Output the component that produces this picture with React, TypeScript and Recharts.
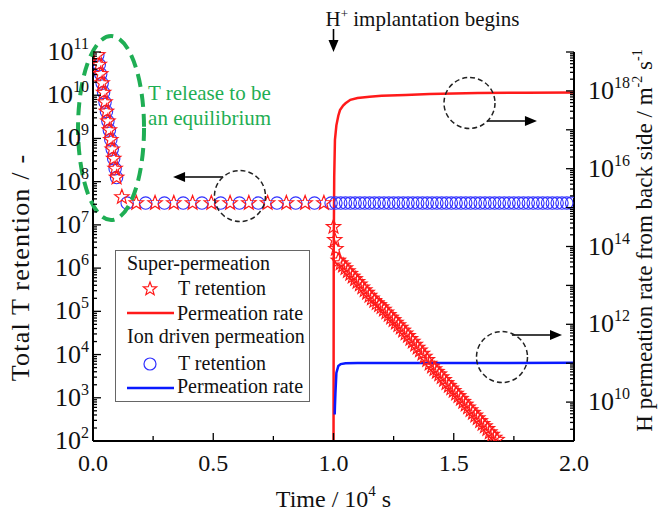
import React from 'react';
import { ComposedChart, XAxis, YAxis, Scatter, Line, ReferenceDot, ReferenceLine, Legend } from 'recharts';

const FONT = '"Liberation Serif", "Times New Roman", Times, serif';

// ---------- axes ----------
const xTicks = [0, 0.25, 0.5, 0.75, 1, 1.25, 1.5, 1.75, 2];
const xTickLabels = ['0.0', '', '0.5', '', '1.0', '', '1.5', '', '2.0'];
const leftDecades = [2, 3, 4, 5, 6, 7, 8, 9, 10, 11];
const leftLabelExps = [2, 3, 4, 5, 6, 7, 8, 9, 10, 11];
const rightDecades = [9, 10, 11, 12, 13, 14, 15, 16, 17, 18, 19];
const rightLabelExps = [10, 12, 14, 16, 18];
const minorMultipliers = [2, 3, 4, 5, 6, 7, 8, 9];

function logTicks(decades: number[]) {
  const out: number[] = [];
  decades.forEach((d, i) => {
    out.push(Math.pow(10, d));
    if (i < decades.length - 1) minorMultipliers.forEach((m) => out.push(m * Math.pow(10, d)));
  });
  return out;
}
const leftTicks = logTicks(leftDecades);
const rightTicks = logTicks(rightDecades);

// ---------- data: Super-permeation T retention (stars) ----------
const superT = [
  0.020, 0.026, 0.032, 0.038, 0.044, 0.050, 0.056, 0.062, 0.068, 0.074, 0.080, 0.086, 0.092, 0.098,
  0.120, 0.180, 0.258, 0.336, 0.414, 0.492, 0.570, 0.648, 0.726, 0.804, 0.882, 0.960,
  1.000, 1.005, 1.010,
  1.02, 1.03, 1.04, 1.05, 1.06, 1.07, 1.08, 1.09, 1.10, 1.11, 1.12, 1.13, 1.14, 1.15, 1.16, 1.17, 1.18, 1.19,
  1.20, 1.21, 1.22, 1.23, 1.24, 1.25, 1.26, 1.27, 1.28, 1.29, 1.30, 1.31, 1.32, 1.33, 1.34, 1.35, 1.36, 1.37,
  1.38, 1.39, 1.40, 1.41, 1.42, 1.43, 1.44, 1.45, 1.46, 1.47, 1.48, 1.49, 1.50, 1.51, 1.52, 1.53, 1.54, 1.55,
  1.56, 1.57, 1.58, 1.59, 1.60, 1.61, 1.62, 1.63, 1.64, 1.65, 1.66, 1.67, 1.68,
];
const superV = [
  8.5e10, 5.1e10, 3.1e10, 1.9e10, 1.15e10, 6.9e9, 4.2e9, 2.5e9, 1.55e9, 9.3e8, 5.6e8, 3.4e8, 2.0e8, 1.25e8,
  4.4e7, 3.2e7, 3.2e7, 3.2e7, 3.2e7, 3.2e7, 3.2e7, 3.2e7, 3.2e7, 3.2e7, 3.2e7, 3.2e7,
  9.0e6, 4.5e6, 2.8e6,
  1.5e6, 1.3e6, 1.15e6, 1.0e6, 8.5e5, 7.4e5, 6.4e5, 5.6e5, 4.8e5, 4.2e5, 3.6e5, 3.1e5, 2.7e5, 2.3e5, 2.0e5, 1.75e5, 1.55e5, 1.4e5,
  1.25e5, 1.1e5, 9.5e4, 8.3e4, 7.2e4, 6.3e4, 5.5e4, 4.8e4, 4.2e4, 3.6e4, 3.1e4, 2.7e4, 2.3e4, 2.0e4, 1.7e4, 1.45e4, 1.25e4, 1.05e4,
  9.0e3, 7.5e3, 6.2e3, 5.3e3, 4.6e3, 4.0e3, 3.5e3, 3.0e3, 2.6e3, 2.2e3, 1.9e3, 1.65e3, 1.45e3, 1.25e3, 1.1e3, 9.5e2, 8.1e2, 7.0e2,
  6.0e2, 5.2e2, 4.5e2, 3.9e2, 3.4e2, 2.9e2, 2.5e2, 2.2e2, 1.9e2, 1.6e2, 1.4e2, 1.2e2, 1.07e2,
];

// ---------- data: Ion driven permeation T retention (circles) ----------
const ionT = [
  0.020, 0.026, 0.032, 0.038, 0.044, 0.050, 0.056, 0.062, 0.068, 0.074, 0.080, 0.086, 0.092, 0.098,
  0.142, 0.219, 0.297, 0.375, 0.453, 0.531, 0.609, 0.687, 0.765, 0.843, 0.921,
  0.99, 1.01, 1.03, 1.05, 1.07, 1.09, 1.11, 1.13, 1.15, 1.17, 1.19, 1.21, 1.23, 1.25, 1.27, 1.29, 1.31,
  1.33, 1.35, 1.37, 1.39, 1.41, 1.43, 1.45, 1.47, 1.49, 1.51, 1.53, 1.55, 1.57, 1.59, 1.61, 1.63, 1.65,
  1.67, 1.69, 1.71, 1.73, 1.75, 1.77, 1.79, 1.81, 1.83, 1.85, 1.87, 1.89, 1.91, 1.93, 1.95, 1.97, 1.99,
];
const ionV = [
  8.5e10, 5.1e10, 3.1e10, 1.9e10, 1.15e10, 6.9e9, 4.2e9, 2.5e9, 1.55e9, 9.3e8, 5.6e8, 3.4e8, 2.0e8, 1.25e8,
  3.2e7, 3.2e7, 3.2e7, 3.2e7, 3.2e7, 3.2e7, 3.2e7, 3.2e7, 3.2e7, 3.2e7, 3.2e7,
  3.2e7, 3.2e7, 3.2e7, 3.2e7, 3.2e7, 3.2e7, 3.2e7, 3.2e7, 3.2e7, 3.2e7, 3.2e7, 3.2e7, 3.2e7, 3.2e7, 3.2e7, 3.2e7, 3.2e7,
  3.2e7, 3.2e7, 3.2e7, 3.2e7, 3.2e7, 3.2e7, 3.2e7, 3.2e7, 3.2e7, 3.2e7, 3.2e7, 3.2e7, 3.2e7, 3.2e7, 3.2e7, 3.2e7, 3.2e7,
  3.2e7, 3.2e7, 3.2e7, 3.2e7, 3.2e7, 3.2e7, 3.2e7, 3.2e7, 3.2e7, 3.2e7, 3.2e7, 3.2e7, 3.2e7, 3.2e7, 3.2e7, 3.2e7, 3.2e7,
];

// ---------- data: permeation rates (right axis) ----------
const superRateT = [1.000, 1.001, 1.003, 1.006, 1.012, 1.02, 1.027, 1.04, 1.05, 1.07, 1.10, 1.15, 1.20, 1.30, 1.40, 1.60, 1.80, 2.00];
const superRateV = [1e8, 1e14, 6e15, 5.5e16, 1.3e17, 2.3e17, 3.2e17, 4.2e17, 4.8e17, 5.9e17, 6.6e17, 7.1e17, 7.5e17, 7.9e17, 8.3e17, 8.8e17, 9.0e17, 9.1e17];
const ionRateT = [1.005, 1.006, 1.008, 1.012, 1.02, 1.03, 1.05, 1.10, 2.00];
const ionRateV = [4.8e9, 8e9, 1.7e10, 5.6e10, 8.5e10, 9.5e10, 1.0e11, 1.01e11, 1.02e11];

const zip = (ts: number[], vs: number[]) => ts.map((t, i) => ({ t, v: vs[i] }));
const superData = zip(superT, superV);
const ionData = zip(ionT, ionV);
const superRateData = zip(superRateT, superRateV);
const ionRateData = zip(ionRateT, ionRateV);

const RED = '#ff1a1a';
const BLUE = '#0a1aff';
const GREEN = '#1fae54';

const isDecade = (v: number) => {
  const e = Math.log10(v);
  return Math.abs(e - Math.round(e)) < 1e-9;
};

function starPoints(cx: number, cy: number, R: number) {
  const pts: string[] = [];
  for (let i = 0; i < 10; i++) {
    const a = -Math.PI / 2 + (i * Math.PI) / 5;
    const r = i % 2 === 0 ? R : R * 0.42;
    pts.push(`${cx + r * Math.cos(a)},${cy + r * Math.sin(a)}`);
  }
  return pts.join(' ');
}

const StarShape = (p: any) => {
  if (p.cx == null || p.cy == null) return <g />;
  return <polygon points={starPoints(p.cx, p.cy, 7.5)} fill="none" stroke={RED} strokeWidth={1.2} />;
};
const CircleShape = (p: any) => {
  if (p.cx == null || p.cy == null) return <g />;
  return <circle cx={p.cx} cy={p.cy} r={6.2} fill="none" stroke="#3030ff" strokeWidth={1.1} />;
};

// ---------- ticks ----------
const LeftTick = (p: any) => {
  const { x, y, payload } = p;
  const v = payload.value;
  const major = isDecade(v);
  const e = Math.round(Math.log10(v));
  return (
    <g>
      <line x1={x} y1={y} x2={x + (major ? 8 : 4)} y2={y} stroke="#000" strokeWidth={1.3} />
      {major && leftLabelExps.includes(e) && (
        <text x={x - 4} y={y + 8} textAnchor="end" fontFamily={FONT} fontSize={26} fill="#111">
          10<tspan dy={-11} fontSize={16}>{e}</tspan>
        </text>
      )}
    </g>
  );
};
const RightTick = (p: any) => {
  const { x, y, payload } = p;
  const v = payload.value;
  const major = isDecade(v);
  const e = Math.round(Math.log10(v));
  return (
    <g>
      <line x1={x} y1={y} x2={x - (major ? 8 : 4)} y2={y} stroke="#000" strokeWidth={1.3} />
      {major && rightLabelExps.includes(e) && (
        <text x={x + 14} y={y + 8} textAnchor="start" fontFamily={FONT} fontSize={26} fill="#111">
          10<tspan dy={-11} fontSize={16}>{e}</tspan>
        </text>
      )}
    </g>
  );
};
const BottomTick = (p: any) => {
  const { x, y, index } = p;
  const label = xTickLabels[index] ?? '';
  const major = label !== '';
  return (
    <g>
      <line x1={x} y1={y} x2={x} y2={y - (major ? 8 : 5)} stroke="#000" strokeWidth={1.3} />
      {major && (
        <text x={x} y={y + 30} textAnchor="middle" fontFamily={FONT} fontSize={24} fill="#111">
          {label}
        </text>
      )}
    </g>
  );
};
const TopTick = (p: any) => {
  const { x, y, index } = p;
  const major = (xTickLabels[index] ?? '') !== '';
  return <line x1={x} y1={y} x2={x} y2={y + (major ? 8 : 5)} stroke="#000" strokeWidth={1.3} />;
};

// ---------- axis labels ----------
const LeftAxisLabel = (p: any) => {
  const vb = p.viewBox || { x: 0, y: 52, width: 93, height: 389 };
  const cx = vb.x + 29;
  const cy = vb.y + vb.height / 2 + 21;
  return (
    <text x={cx} y={cy} transform={`rotate(-90 ${cx} ${cy})`} textAnchor="middle" fontFamily={FONT} fontSize={26} letterSpacing={1.2} fill="#111">
      Total T retention / -
    </text>
  );
};
const RightAxisLabel = (p: any) => {
  const vb = p.viewBox || { x: 574, y: 52, width: 93, height: 389 };
  const cx = vb.x + 78;
  const cy = vb.y + vb.height / 2 - 6;
  return (
    <text x={cx} y={cy} transform={`rotate(-90 ${cx} ${cy})`} textAnchor="middle" fontFamily={FONT} fontSize={23} fill="#111">
      H permeation rate from back side / m<tspan dy={-10} fontSize={14}>-2</tspan>
      <tspan dy={10}> s</tspan>
      <tspan dy={-10} fontSize={14}>-1</tspan>
    </text>
  );
};
const BottomAxisLabel = (p: any) => {
  const vb = p.viewBox || { x: 93, y: 441, width: 481, height: 71 };
  const cx = vb.x + vb.width / 2;
  const cy = vb.y + 66;
  return (
    <text x={cx} y={cy} textAnchor="middle" fontFamily={FONT} fontSize={24} fill="#111">
      Time / 10<tspan dy={-11} fontSize={15}>4</tspan>
      <tspan dy={11}> s</tspan>
    </text>
  );
};

// ---------- annotations ----------
const ArrowShape = (p: any) => {
  const { x1, y1, x2, y2 } = p;
  if ([x1, y1, x2, y2].some((v) => v == null || isNaN(v))) return <g />;
  const dx = x2 - x1, dy = y2 - y1;
  const L = Math.hypot(dx, dy) || 1;
  const ux = dx / L, uy = dy / L;
  const hl = 12, hw = 5;
  const bx = x2 - ux * hl, by = y2 - uy * hl;
  return (
    <g>
      <line x1={x1} y1={y1} x2={bx} y2={by} stroke="#000" strokeWidth={1.6} />
      <polygon points={`${x2},${y2} ${bx - uy * hw},${by + ux * hw} ${bx + uy * hw},${by - ux * hw}`} fill="#000" />
    </g>
  );
};
const DashedCircle = (p: any) => (
  <circle cx={p.cx} cy={p.cy} r={25.5} fill="none" stroke="#222" strokeWidth={1.5} strokeDasharray="5 3" />
);
const GreenEllipse = (p: any) => (
  <ellipse cx={p.cx} cy={p.cy} rx={33} ry={92} fill="none" stroke={GREEN} strokeWidth={4} strokeDasharray="13 7" />
);
const GreenText = (p: any) => (
  <text x={p.cx} y={p.cy} fontFamily={FONT} fontSize={21} fill={GREEN}>
    <tspan x={p.cx}>T release to be</tspan>
    <tspan x={p.cx} dy={25}>an equilibrium</tspan>
  </text>
);
const TitleText = (p: any) => (
  <text x={p.cx - 8} y={p.cy - 26} fontFamily={FONT} fontSize={21} fill="#111">
    H<tspan dy={-8} fontSize={13}>+</tspan>
    <tspan dy={8}> implantation begins</tspan>
  </text>
);

// ---------- legend ----------
const LegendBox = () => {
  const ts = { fontFamily: FONT, fontSize: 20, fill: '#111' } as any;
  return (
    <div style={{ width: 195, height: 152, border: '1.5px solid #666', background: '#fff', boxSizing: 'border-box' }}>
      <svg width={193} height={150} style={{ display: 'block' }}>
        <g transform="translate(-1,-1)">
          <text x={12} y={20} {...ts}>Super-permeation</text>
          <polygon points={starPoints(35, 39, 7)} fill="none" stroke={RED} strokeWidth={1.2} />
          <text x={63} y={45} {...ts}>T retention</text>
          <line x1={12} x2={59} y1={63} y2={63} stroke={RED} strokeWidth={2.5} />
          <text x={62} y={70} {...ts}>Permeation rate</text>
          <text x={12} y={93} {...ts}>Ion driven permeation</text>
          <circle cx={35} cy={114} r={6} fill="none" stroke="#3030ff" strokeWidth={1.2} />
          <text x={63} y={120} {...ts}>T retention</text>
          <line x1={12} x2={59} y1={138} y2={138} stroke={BLUE} strokeWidth={2.5} />
          <text x={62} y={143} {...ts}>Permeation rate</text>
        </g>
      </svg>
    </div>
  );
};

export default function App() {
  return (
    <div style={{ position: 'absolute', left: 0, top: 0, width: 667, height: 512, background: '#fff' }}>
      <ComposedChart width={667} height={512} margin={{ top: 52, right: 0, bottom: 0, left: 0 }}>
        <XAxis
          xAxisId="b" type="number" dataKey="t" domain={[0, 2]} ticks={xTicks} interval={0}
          allowDataOverflow height={71} tickSize={0} tickMargin={0} tickLine={false}
          axisLine={{ stroke: '#000', strokeWidth: 2 }} tick={<BottomTick />} label={<BottomAxisLabel />}
        />
        <XAxis
          xAxisId="t" orientation="top" type="number" dataKey="t" domain={[0, 2]} ticks={xTicks} interval={0}
          allowDataOverflow height={0} tickSize={0} tickMargin={0} tickLine={false}
          axisLine={{ stroke: '#000', strokeWidth: 2 }} tick={<TopTick />}
        />
        <YAxis
          yAxisId="L" orientation="left" scale="log" dataKey="v" domain={[1e2, 1e11]} ticks={leftTicks} interval={0}
          allowDataOverflow width={93} tickSize={0} tickMargin={0} tickLine={false}
          axisLine={{ stroke: '#000', strokeWidth: 2 }} tick={<LeftTick />} label={<LeftAxisLabel />}
        />
        <YAxis
          yAxisId="R" orientation="right" scale="log" dataKey="v" domain={[1e9, 1e19]} ticks={rightTicks} interval={0}
          allowDataOverflow width={93} tickSize={0} tickMargin={0} tickLine={false}
          axisLine={{ stroke: '#000', strokeWidth: 2 }} tick={<RightTick />} label={<RightAxisLabel />}
        />

        <Scatter name="ion T" data={ionData} xAxisId="b" yAxisId="L" dataKey="v" shape={CircleShape} isAnimationActive={false} />
        <Scatter name="super T" data={superData} xAxisId="b" yAxisId="L" dataKey="v" shape={StarShape} isAnimationActive={false} />
        <Line name="super rate" data={superRateData} xAxisId="b" yAxisId="R" dataKey="v" type="linear" stroke={RED} strokeWidth={2.5} dot={false} isAnimationActive={false} />
        <Line name="ion rate" data={ionRateData} xAxisId="b" yAxisId="R" dataKey="v" type="linear" stroke={BLUE} strokeWidth={2.5} dot={false} isAnimationActive={false} />

        <ReferenceDot xAxisId="b" yAxisId="L" x={0.075} y={1.74e9} ifOverflow="visible" shape={GreenEllipse} />
        <ReferenceDot xAxisId="b" yAxisId="L" x={0.229} y={7.8e9} ifOverflow="visible" shape={GreenText} />
        <ReferenceDot xAxisId="b" yAxisId="L" x={0.611} y={4.65e7} ifOverflow="visible" shape={DashedCircle} />
        <ReferenceLine xAxisId="b" yAxisId="L" segment={[{ x: 0.541, y: 1.28e8 }, { x: 0.333, y: 1.28e8 }]} ifOverflow="visible" shape={ArrowShape} />
        <ReferenceDot xAxisId="b" yAxisId="R" x={1.5655} y={4.89e17} ifOverflow="visible" shape={DashedCircle} />
        <ReferenceLine xAxisId="b" yAxisId="R" segment={[{ x: 1.638, y: 1.68e17 }, { x: 1.846, y: 1.68e17 }]} ifOverflow="visible" shape={ArrowShape} />
        <ReferenceDot xAxisId="b" yAxisId="R" x={1.7006} y={1.44e11} ifOverflow="visible" shape={DashedCircle} />
        <ReferenceLine xAxisId="b" yAxisId="R" segment={[{ x: 1.742, y: 5.3e11 }, { x: 1.95, y: 5.3e11 }]} ifOverflow="visible" shape={ArrowShape} />
        <ReferenceLine xAxisId="b" yAxisId="R" segment={[{ x: 1.0, y: 3.9e19 }, { x: 1.0, y: 1e19 }]} ifOverflow="visible" shape={ArrowShape} />
        <ReferenceDot xAxisId="b" yAxisId="R" x={1.0} y={1e19} ifOverflow="visible" shape={TitleText} />

        <Legend
          layout="horizontal" verticalAlign="middle" align="center"
          wrapperStyle={{ position: 'absolute', left: 115, top: 250, width: 195, height: 152 }}
          content={() => <LegendBox />}
        />
      </ComposedChart>
    </div>
  );
}
